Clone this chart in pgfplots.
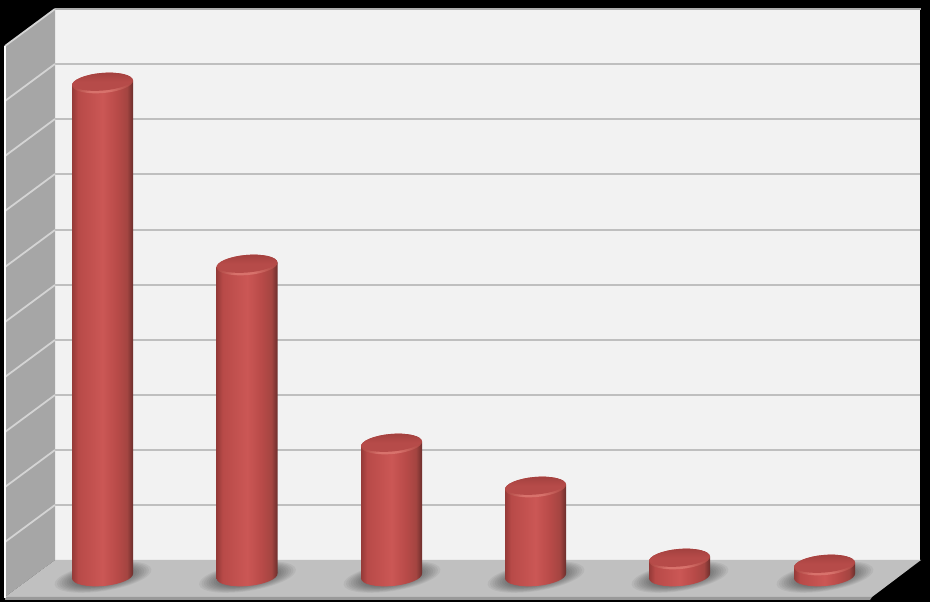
\documentclass[border=0pt]{standalone}
\usepackage{pgfplots}
\pgfplotsset{compat=1.18}

\definecolor{wallback}{HTML}{F2F2F2}
\definecolor{wallside}{HTML}{A6A6A6}
\definecolor{wallfloor}{HTML}{C0C0C0}
\definecolor{gridback}{HTML}{BFBFBF}
\definecolor{gridside}{HTML}{D4D4D4}
\definecolor{cylleft}{HTML}{953A38}
\definecolor{cylmid}{HTML}{B84A48}
\definecolor{cyllight}{HTML}{CB5755}
\definecolor{cylshade}{HTML}{A44541}
\definecolor{cylright}{HTML}{6C2E2C}
\definecolor{cylrimside}{HTML}{AC4541}
\definecolor{cylrim}{HTML}{D8726C}
\definecolor{cyllidmid}{HTML}{B64B49}
\definecolor{cylliddark}{HTML}{A03F3D}

% side of the cylinder, 25bp..75bp is what lands on the path
\pgfdeclarehorizontalshading{cylred}{100bp}{
  color(0bp)=(cylleft);
  color(25bp)=(cylleft);
  color(30bp)=(cylmid);
  color(50bp)=(cyllight);
  color(62bp)=(cylmid);
  color(70bp)=(cylshade);
  color(75bp)=(cylright);
  color(100bp)=(cylright)}
% rim and face of the lid
\pgfdeclarehorizontalshading{cylrimshade}{100bp}{
  color(0bp)=(cylrimside);
  color(25bp)=(cylrimside);
  color(40bp)=(cylrim);
  color(55bp)=(cylrim);
  color(75bp)=(cylrimside);
  color(100bp)=(cylrimside)}
\pgfdeclareverticalshading{cyllid}{100bp}{
  color(0bp)=(cyllidmid);
  color(25bp)=(cyllidmid);
  color(50bp)=(cyllidmid);
  color(75bp)=(cylliddark);
  color(100bp)=(cylliddark)}

% tilted ellipse, given by its two half axes
\newcommand{\tiltedellipse}{%
  \pgfpathellipse{\pgfpointorigin}{\pgfqpoint{30.5pt}{2.6pt}}{\pgfqpoint{-0.85pt}{10pt}}}
\newcommand{\cylfill}[1]{%
  \pgfpathrectanglecorners{\pgfqpoint{-30.5pt}{-16pt}}{\pgfqpoint{30.5pt}{16pt}}%
  \pgfshadepath{#1}{0}\pgfusepath{discard}}

\pgfdeclareplotmark{cyltop}{
  \pgfscope
    \tiltedellipse\pgfusepath{clip}
    \cylfill{cylrimshade}
    \pgfpathellipse{\pgfqpoint{-0.1pt}{1.5pt}}{\pgfqpoint{30.5pt}{2.6pt}}{\pgfqpoint{-0.8pt}{9pt}}
    \pgfshadepath{cyllid}{0}\pgfusepath{discard}
  \endpgfscope
}
\pgfdeclareplotmark{cylbase}{
  \pgfscope
    \tiltedellipse\pgfusepath{clip}
    \cylfill{cylred}
  \endpgfscope
}
\pgfdeclareplotmark{cylshadow}{
  \pgfsetfillopacity{0.05}
  \pgfsetfillcolor{black}
  \foreach \s in {1.00,0.95,0.90,0.85,0.80,0.75,0.70,0.65,0.60,0.55,0.50,0.45} {
    \pgfpathellipse{\pgfpointorigin}{\pgfpoint{48.4pt*\s}{7.7pt*\s}}{\pgfpoint{-2.2pt*\s}{13.8pt*\s}}
    \pgfusepath{fill}
  }
}

\pgfplotsset{cyl/.style={draw=none, shading=cylred}}

\begin{document}
\begin{tikzpicture}
\begin{axis}[
    hide axis,
    scale only axis,
    width=930pt, height=602pt,
    xmin=0, xmax=930,
    ymin=-26, ymax=576,
    clip mode=individual, % keeps marks in the order of the plots
    unbounded coords=jump,
  ]
  % page and the three walls
  \addplot[fill=black, draw=none] coordinates {(0,-26) (930,-26) (930,576) (0,576)} --cycle;
  \addplot[fill=wallback, draw=none] coordinates {(55,16) (920,16) (920,567) (55,567)} --cycle;
  \addplot[fill=wallside, draw=none] coordinates {(5,-21) (55,16) (55,567) (5,530)} --cycle;
  \addplot[fill=wallfloor, draw=none] coordinates {(5,-21) (55,16) (921,16) (872,-21)} --cycle;
  \addplot[fill=black!40, draw=none] coordinates {(5,-24) (5,-21) (872,-21) (870,-24)} --cycle;

  % grid, back wall
  \addplot[color=gridback, line width=2.6pt] coordinates {
    (55,512) (920,512) (nan,nan)
    (55,457) (920,457) (nan,nan)
    (55,402) (920,402) (nan,nan)
    (55,346) (920,346) (nan,nan)
    (55,291) (920,291) (nan,nan)
    (55,236) (920,236) (nan,nan)
    (55,181) (920,181) (nan,nan)
    (55,126) (920,126) (nan,nan)
    (55,71) (920,71)
  };
  \addplot[color=black!32, line width=2.6pt] coordinates {(55,567) (921,567)};
  % grid, side wall
  \addplot[color=gridside, line width=1.8pt] coordinates {
    (5,530) (55,567) (nan,nan)
    (5,475) (55,512) (nan,nan)
    (5,420) (55,457) (nan,nan)
    (5,365) (55,402) (nan,nan)
    (5,309) (55,346) (nan,nan)
    (5,254) (55,291) (nan,nan)
    (5,199) (55,236) (nan,nan)
    (5,144) (55,181) (nan,nan)
    (5,89) (55,126) (nan,nan)
    (5,34) (55,71)
  };
  \addplot[color=white, line width=2pt] coordinates {(5,-22) (5,530)};

  % shadows on the floor
  \addplot[only marks, mark=cylshadow] coordinates {
    (103,-1) (247.5,-1) (392,-1) (536,-1) (680,-1) (825,-1)
  };
  % cylinders: bases, sides between the ellipse ends, lids
  \addplot[only marks, mark=cylbase] coordinates {
    (102.5,0) (247,0) (391.5,0) (535.5,0) (679.5,0) (824.5,0)
  };
  \addplot[cyl] coordinates {(72,-2.6) (133,2.6) (133,495.6) (72,490.4)} --cycle;
  \addplot[cyl] coordinates {(216.5,-2.6) (277.5,2.6) (277.5,313.6) (216.5,308.4)} --cycle;
  \addplot[cyl] coordinates {(361,-2.6) (422,2.6) (422,134.6) (361,129.4)} --cycle;
  \addplot[cyl] coordinates {(505,-2.6) (566,2.6) (566,91.6) (505,86.4)} --cycle;
  \addplot[cyl] coordinates {(649,-2.6) (710,2.6) (710,19.6) (649,14.4)} --cycle;
  \addplot[cyl] coordinates {(794,-2.6) (855,2.6) (855,13.6) (794,8.4)} --cycle;
  \addplot[only marks, mark=cyltop] coordinates {
    (102.5,493) (247,311) (391.5,132) (535.5,89) (679.5,17) (824.5,11)
  };
\end{axis}
\end{tikzpicture}
\end{document}
